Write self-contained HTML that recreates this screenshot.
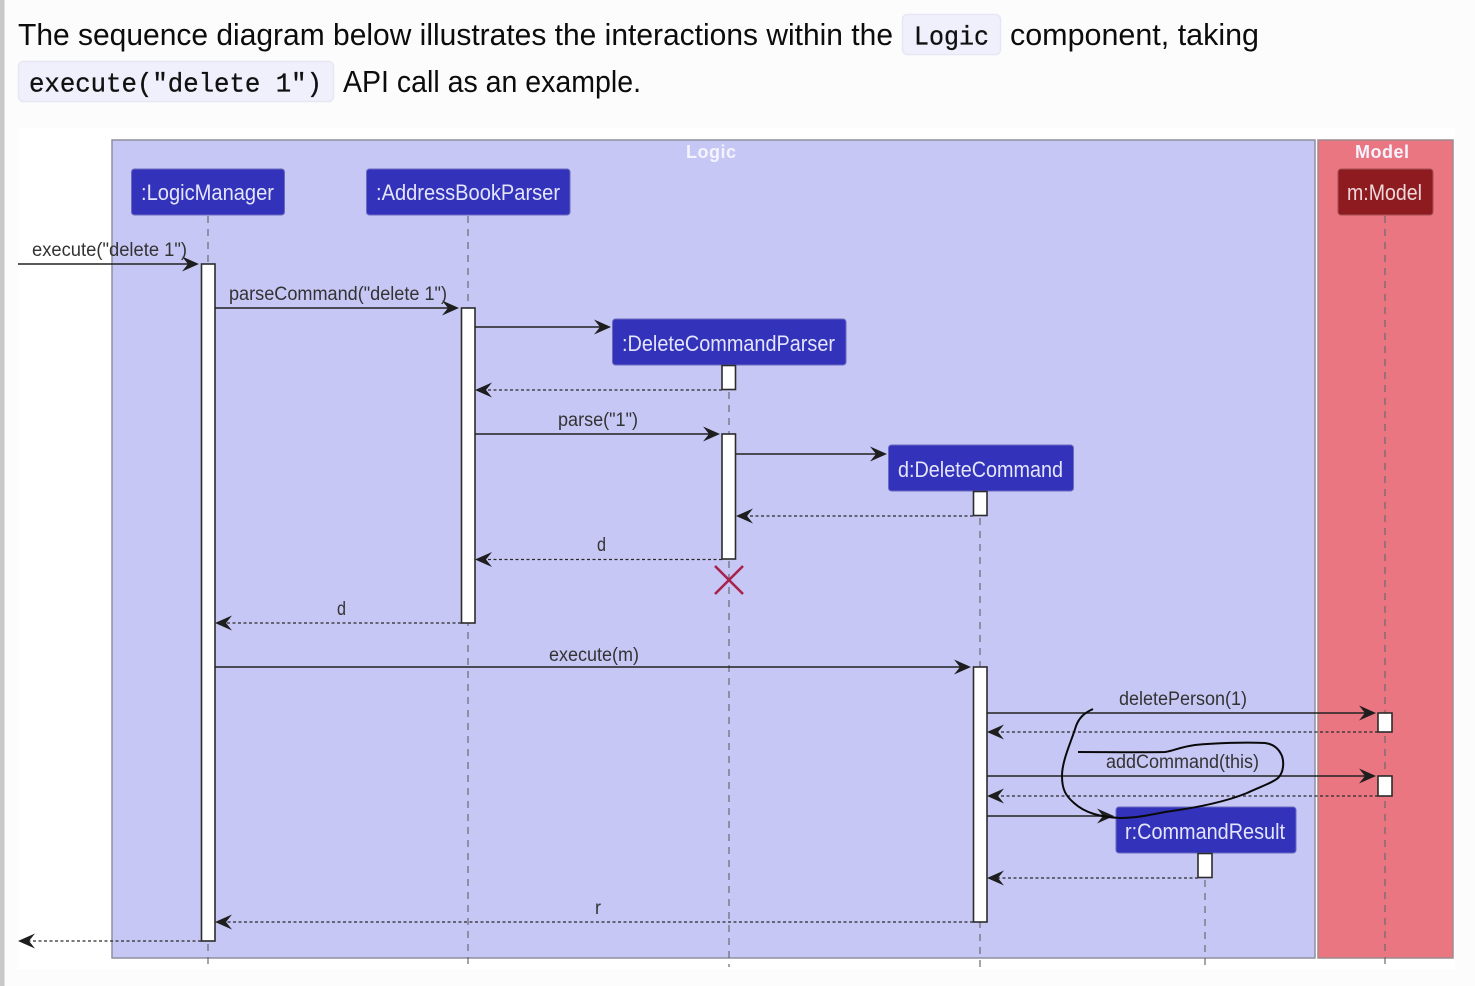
<!DOCTYPE html>
<html>
<head>
<meta charset="utf-8">
<style>
html,body{margin:0;padding:0;background:#fcfcfd;width:1475px;height:986px;overflow:hidden}
svg{display:block;filter:blur(0.35px)}
text{font-family:"Liberation Sans",sans-serif}
.b{font-size:31px;fill:#0c0c0c}
.c{font-family:"Liberation Mono",monospace;font-size:27px;fill:#111;stroke:#111;stroke-width:0.35}
.p{font-size:22px;fill:#e4e4fb}
.m{font-size:19px;fill:#333}
.t{font-size:18px;font-weight:bold;fill:#f4f4ff}
.pl{fill:#f0f0fd;stroke:#e6e6f4;stroke-width:1.5}
.ll{stroke:#6a6a70;stroke-width:1.2;stroke-dasharray:7 6;fill:none}
.act{fill:#fff;stroke:#2c2c2c;stroke-width:1.6}
.s{stroke:#222;stroke-width:1.6;fill:none}
.d{stroke:#2a2a2a;stroke-width:1.3;stroke-dasharray:3 2.5;fill:none}
.h{fill:#1e1e1e}
.part{fill:#3232ba;stroke:#6a6abf;stroke-width:1}
</style>
</head>
<body>
<svg width="1475" height="986" viewBox="0 0 1475 986" xmlns="http://www.w3.org/2000/svg">
<defs>
<polygon id="ar" points="0,0 -17,-7.500 -11,0 -17,7.500"/>
<polygon id="al" points="0,0 17,-7.500 11,0 17,7.500"/>
</defs>
<rect x="0" y="0" width="1475" height="986" fill="#fcfcfd"/>
<rect x="0" y="0" width="4.5" height="986" fill="#c8c8ca"/>

<text class="b" x="18" y="45" textLength="875" lengthAdjust="spacingAndGlyphs">The sequence diagram below illustrates the interactions within the</text>
<rect class="pl" x="902.5" y="14.5" width="98" height="40" rx="5"/>
<text class="c" x="914" y="44.500" textLength="75" lengthAdjust="spacingAndGlyphs">Logic</text>
<text class="b" x="1010" y="45" textLength="249" lengthAdjust="spacingAndGlyphs">component, taking</text>
<rect class="pl" x="18.5" y="61.5" width="315" height="40" rx="5"/>
<text class="c" x="29" y="91.500" textLength="293" lengthAdjust="spacingAndGlyphs">execute("delete 1")</text>
<text class="b" x="343" y="92" textLength="298" lengthAdjust="spacingAndGlyphs">API call as an example.</text>

<rect x="18" y="128" width="1437" height="841" fill="#fff"/>
<rect x="112" y="140" width="1203" height="818" fill="#c7c7f5" stroke="#8f8f9f" stroke-width="1.5"/>
<rect x="1318" y="140" width="135" height="818" fill="#e97681" stroke="#a08a8e" stroke-width="1.5"/>
<text class="t" x="686" y="158" textLength="50" lengthAdjust="spacing">Logic</text>
<text class="t" x="1355" y="158" textLength="54" lengthAdjust="spacing">Model</text>

<line class="ll" x1="208" y1="216" x2="208" y2="967"/>
<line class="ll" x1="468" y1="216" x2="468" y2="967"/>
<line class="ll" x1="729" y1="366" x2="729" y2="967"/>
<line class="ll" x1="980" y1="492" x2="980" y2="967"/>
<line class="ll" x1="1205" y1="854" x2="1205" y2="967"/>
<line class="ll" x1="1385" y1="216" x2="1385" y2="967"/>

<rect class="part" x="131.5" y="169" width="153" height="46" rx="3"/>
<text class="p" x="141" y="200" textLength="133" lengthAdjust="spacingAndGlyphs">:LogicManager</text>
<rect class="part" x="366.5" y="169" width="203.500" height="46" rx="3"/>
<text class="p" x="376" y="200" textLength="184" lengthAdjust="spacingAndGlyphs">:AddressBookParser</text>
<rect class="part" x="612.500" y="319" width="233.500" height="46" rx="3"/>
<text class="p" x="622" y="351" textLength="213" lengthAdjust="spacingAndGlyphs">:DeleteCommandParser</text>
<rect class="part" x="888.500" y="445" width="185" height="46" rx="3"/>
<text class="p" x="898" y="477" textLength="165" lengthAdjust="spacingAndGlyphs">d:DeleteCommand</text>
<rect class="part" x="1116" y="807" width="180" height="46" rx="3"/>
<text class="p" x="1125" y="839" textLength="160" lengthAdjust="spacingAndGlyphs">r:CommandResult</text>
<rect x="1338" y="169" width="95" height="46" rx="3" fill="#8e1b1f" stroke="#a85058" stroke-width="1"/>
<text class="p" x="1347" y="200" textLength="75" lengthAdjust="spacingAndGlyphs" style="fill:#f0d8da">m:Model</text>

<rect class="act" x="201.500" y="264" width="13.500" height="677"/>
<rect class="act" x="461.500" y="308" width="13.500" height="315"/>
<rect class="act" x="722" y="365.500" width="13.500" height="24"/>
<rect class="act" x="722" y="434" width="13.500" height="125"/>
<rect class="act" x="973.500" y="491.500" width="13.500" height="24"/>
<rect class="act" x="973.500" y="667" width="13.500" height="255"/>
<rect class="act" x="1378" y="713" width="14" height="19"/>
<rect class="act" x="1378" y="776" width="14" height="20"/>
<rect class="act" x="1198" y="853.500" width="14" height="24"/>

<path d="M715 566 L743 594 M743 566 L715 594" stroke="#a8224c" stroke-width="2.6" fill="none"/>

<line class="s" x1="18" y1="264" x2="192" y2="264"/><use href="#ar" class="h" x="199" y="264"/>
<line class="s" x1="215" y1="308" x2="452" y2="308"/><use href="#ar" class="h" x="459" y="308"/>
<line class="s" x1="475" y1="327" x2="604" y2="327"/><use href="#ar" class="h" x="611" y="327"/>
<line class="d" x1="722" y1="390" x2="484" y2="390"/><use href="#al" class="h" x="475" y="390"/>
<line class="s" x1="475" y1="434" x2="713" y2="434"/><use href="#ar" class="h" x="720" y="434"/>
<line class="s" x1="736" y1="454" x2="880" y2="454"/><use href="#ar" class="h" x="887" y="454"/>
<line class="d" x1="973" y1="516" x2="745" y2="516"/><use href="#al" class="h" x="736" y="516"/>
<line class="d" x1="722" y1="559.500" x2="484" y2="559.500"/><use href="#al" class="h" x="475" y="559.500"/>
<line class="d" x1="461" y1="623" x2="224" y2="623"/><use href="#al" class="h" x="215" y="623"/>
<line class="s" x1="215" y1="667" x2="964" y2="667"/><use href="#ar" class="h" x="971" y="667"/>
<line class="s" x1="987" y1="713" x2="1369" y2="713"/><use href="#ar" class="h" x="1376" y="713"/>
<line class="d" x1="1378" y1="732" x2="996" y2="732"/><use href="#al" class="h" x="987" y="732"/>
<line class="s" x1="987" y1="776" x2="1369" y2="776"/><use href="#ar" class="h" x="1376" y="776"/>
<line class="d" x1="1378" y1="796" x2="996" y2="796"/><use href="#al" class="h" x="987" y="796"/>
<line class="s" x1="987" y1="816" x2="1107" y2="816"/><use href="#ar" class="h" x="1114" y="816"/>
<line class="d" x1="1198" y1="878" x2="996" y2="878"/><use href="#al" class="h" x="987" y="878"/>
<line class="d" x1="973" y1="922" x2="224" y2="922"/><use href="#al" class="h" x="215" y="922"/>
<line class="d" x1="201" y1="941" x2="27" y2="941"/><use href="#al" class="h" x="18" y="941"/>

<text class="m" x="32" y="256" textLength="155" lengthAdjust="spacingAndGlyphs">execute("delete 1")</text>
<text class="m" x="229" y="300" textLength="218" lengthAdjust="spacingAndGlyphs">parseCommand("delete 1")</text>
<text class="m" x="558" y="426" textLength="80" lengthAdjust="spacingAndGlyphs">parse("1")</text>
<text class="m" x="597" y="551" textLength="9" lengthAdjust="spacingAndGlyphs">d</text>
<text class="m" x="337" y="615" textLength="9" lengthAdjust="spacingAndGlyphs">d</text>
<text class="m" x="549" y="661" textLength="90" lengthAdjust="spacingAndGlyphs">execute(m)</text>
<text class="m" x="1119" y="705" textLength="128" lengthAdjust="spacingAndGlyphs">deletePerson(1)</text>
<text class="m" x="1106" y="768" textLength="153" lengthAdjust="spacingAndGlyphs">addCommand(this)</text>
<text class="m" x="595" y="914" textLength="6" lengthAdjust="spacingAndGlyphs">r</text>

<path d="M1093 709 C1084 713 1079 718 1076 726 C1072 740 1062 760 1062 776 C1062 790 1066 796 1074 803 C1085 813 1100 817 1120 818 C1135 818 1150 815 1165 812 C1195 808 1225 802 1247 793 C1262 786 1272 783 1278 778 C1284 772 1284 762 1282 756 C1279 749 1274 744 1265 743 C1245 742 1215 743 1195 745 C1180 747 1173 751 1165 752 C1140 752.500 1105 752 1078 752" fill="none" stroke="#0a0a0a" stroke-width="2"/>
</svg>
</body>
</html>
